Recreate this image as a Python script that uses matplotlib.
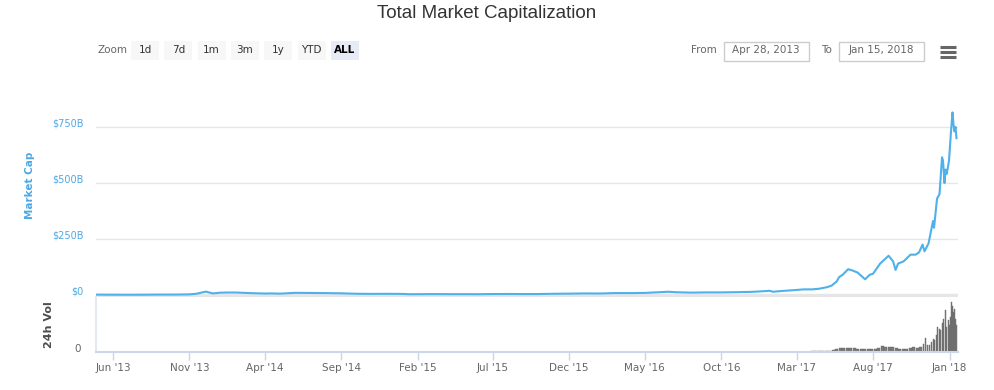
import matplotlib
matplotlib.use('Agg')
import matplotlib.pyplot as plt
import matplotlib.dates as mdates
import matplotlib.transforms as mtransforms
from matplotlib.patches import Rectangle
import numpy as np
import pandas as pd

# total market cap, billions USD
cap_dates = [
    '2013-04-28', '2013-06-01', '2013-07-01', '2013-08-01', '2013-09-01', '2013-10-01',
    '2013-11-01', '2013-11-15', '2013-12-01', '2013-12-04', '2013-12-18', '2014-01-01',
    '2014-01-15', '2014-02-01', '2014-03-01', '2014-04-01', '2014-04-15', '2014-05-01',
    '2014-06-01', '2014-07-01', '2014-08-01', '2014-09-01', '2014-10-01', '2014-11-01',
    '2014-12-01', '2015-01-01', '2015-01-15', '2015-02-01', '2015-03-01', '2015-04-01',
    '2015-05-01', '2015-06-01', '2015-07-01', '2015-08-01', '2015-09-01', '2015-10-01',
    '2015-11-01', '2015-12-01', '2016-01-01', '2016-02-01', '2016-03-01', '2016-04-01',
    '2016-05-01', '2016-06-01', '2016-06-17', '2016-07-01', '2016-08-01', '2016-09-01',
    '2016-10-01', '2016-11-01', '2016-12-01', '2017-01-01', '2017-01-05', '2017-01-12',
    '2017-02-01', '2017-03-01', '2017-03-15', '2017-04-01', '2017-04-15', '2017-05-01',
    '2017-05-10', '2017-05-20', '2017-05-25', '2017-06-01', '2017-06-12', '2017-06-20',
    '2017-07-01', '2017-07-16', '2017-07-25', '2017-08-01', '2017-08-15', '2017-09-01',
    '2017-09-10', '2017-09-15', '2017-09-20', '2017-10-01', '2017-10-15', '2017-10-25',
    '2017-11-01', '2017-11-08', '2017-11-12', '2017-11-20', '2017-11-29', '2017-12-01',
    '2017-12-07', '2017-12-12', '2017-12-17', '2017-12-19', '2017-12-22', '2017-12-24',
    '2017-12-26', '2017-12-28', '2017-12-31', '2018-01-04', '2018-01-07', '2018-01-09',
    '2018-01-11', '2018-01-13', '2018-01-15',
]
cap_values = [
    1.6, 1.3, 1.1, 1.3, 1.8, 1.8,
    2.7, 5.5, 13.5, 15.0, 7.0, 10.0,
    11.0, 11.0, 8.5, 6.5, 7.0, 6.0,
    9.5, 9.0, 8.5, 7.5, 5.5, 4.9,
    5.2, 4.8, 3.5, 3.6, 4.0, 3.7,
    3.7, 3.5, 4.2, 4.5, 4.1, 4.3,
    5.5, 6.0, 7.0, 6.6, 8.5, 8.5,
    9.2, 12.5, 14.5, 12.3, 10.5, 11.5,
    11.5, 12.5, 14.0, 17.7, 19.0, 14.5,
    18.0, 22.5, 25.0, 25.0, 28.0, 35.0,
    42.0, 60.0, 80.0, 90.0, 115.0, 110.0,
    100.0, 70.0, 90.0, 95.0, 140.0, 175.0,
    150.0, 112.0, 140.0, 150.0, 180.0, 180.0,
    190.0, 225.0, 195.0, 230.0, 330.0, 300.0,
    430.0, 450.0, 615.0, 600.0, 500.0, 560.0,
    540.0, 560.0, 600.0, 730.0, 815.0, 760.0,
    730.0, 750.0, 700.0,
]

# 24h volume, billions USD
vol_dates = [
    '2013-05-01', '2013-09-01', '2014-01-01', '2014-05-01', '2014-09-01', '2015-01-01',
    '2015-05-01', '2015-09-01', '2016-01-01', '2016-05-01', '2016-09-01', '2017-01-01',
    '2017-03-01', '2017-03-08', '2017-03-15', '2017-03-22', '2017-03-29', '2017-04-05',
    '2017-04-12', '2017-04-19', '2017-04-26', '2017-05-03', '2017-05-10', '2017-05-17',
    '2017-05-24', '2017-05-31', '2017-06-07', '2017-06-14', '2017-06-21', '2017-06-28',
    '2017-07-05', '2017-07-12', '2017-07-19', '2017-07-26', '2017-08-02', '2017-08-09',
    '2017-08-16', '2017-08-23', '2017-08-30', '2017-09-06', '2017-09-13', '2017-09-20',
    '2017-09-27', '2017-10-04', '2017-10-11', '2017-10-18', '2017-10-25', '2017-11-01',
    '2017-11-08', '2017-11-12', '2017-11-16', '2017-11-20', '2017-11-24', '2017-11-28',
    '2017-12-01', '2017-12-04', '2017-12-07', '2017-12-10', '2017-12-13', '2017-12-16',
    '2017-12-19', '2017-12-22', '2017-12-25', '2017-12-28', '2017-12-31', '2018-01-02',
    '2018-01-04', '2018-01-06', '2018-01-08', '2018-01-10', '2018-01-12', '2018-01-14',
]
vol_values = [
    0.05, 0.05, 0.1, 0.05, 0.05, 0.05,
    0.05, 0.05, 0.1, 0.1, 0.1, 0.2,
    0.4, 0.5, 0.6, 0.6, 0.7, 0.8,
    0.9, 1.0, 1.2, 1.8, 2.5, 3.5,
    4.5, 4.8, 4.5, 5.0, 4.8, 4.2,
    4.0, 3.8, 3.6, 3.8, 4.2, 5.0,
    7.5, 6.5, 5.5, 6.0, 4.5, 3.8,
    3.5, 4.0, 5.0, 5.5, 5.0, 6.5,
    10.0, 17.0, 8.0, 9.0, 12.0, 16.0,
    14.0, 20.0, 30.0, 28.0, 26.0, 35.0,
    40.0, 50.0, 30.0, 38.0, 32.0, 42.0,
    60.0, 55.0, 48.0, 52.0, 40.0, 33.0,
]

cap_ticks = [0, 250, 500, 750]
cap_tick_labels = ['$0', '$250B', '$500B', '$750B']
x_ticks = ['2013-06-01', '2013-11-01', '2014-04-01', '2014-09-01', '2015-02-01', '2015-07-01',
           '2015-12-01', '2016-05-01', '2016-10-01', '2017-03-01', '2017-08-01', '2018-01-01']
x_tick_labels = ["Jun '13", "Nov '13", "Apr '14", "Sep '14", "Feb '15", "Jul '15",
                 "Dec '15", "May '16", "Oct '16", "Mar '17", "Aug '17", "Jan '18"]
zoom_buttons = ['1d', '7d', '1m', '3m', '1y', 'YTD', 'ALL']
range_from = 'Apr 28, 2013'
range_to = 'Jan 15, 2018'

W, H = 994, 390
LINE = '#4fb1ea'
LABEL_BLUE = '#4fa8e3'
GRID = '#e6e6e6'
AXIS = '#ccd6eb'
TEXT = '#666666'

plt.rcParams['font.family'] = ['DejaVu Sans']


def fx(px):
    return px / W


def fy(py):
    return 1 - py / H


fig = plt.figure(figsize=(W / 100, H / 100), dpi=100)

x0, x1 = 96, 958
main_top, main_bot = 105, 297
vol_top, vol_bot = 297, 352

ax = fig.add_axes([fx(x0), fy(main_bot), fx(x1 - x0), (main_bot - main_top) / H])
axv = fig.add_axes([fx(x0), fy(vol_bot), fx(x1 - x0), (vol_bot - vol_top) / H], sharex=ax)

cd = pd.to_datetime(cap_dates)
vd = pd.to_datetime(vol_dates)
xlim = (pd.Timestamp('2013-04-28'), pd.Timestamp('2018-01-18'))

# labels in highcharts sit a few px above their grid line
lift = mtransforms.ScaledTranslation(0, 4 / 100, fig.dpi_scale_trans)

# main panel
ax.plot(cd, cap_values, color=LINE, lw=1.5, solid_joinstyle='round', zorder=3)
ax.set_xlim(xlim)
ax.set_ylim(-9, 848)
ax.set_yticks(cap_ticks)
ax.set_yticklabels(cap_tick_labels, color=LABEL_BLUE, fontsize=7)
ax.tick_params(axis='y', length=0, pad=9)
ax.tick_params(axis='x', length=0, labelbottom=False)
for lbl in ax.get_yticklabels():
    lbl.set_transform(lbl.get_transform() + lift)
ax.grid(axis='y', color=GRID, lw=1)
ax.axhline(0, color=GRID, lw=2.5, zorder=1)
for s in ax.spines.values():
    s.set_visible(False)
ax.set_ylabel('Market Cap', color=LABEL_BLUE, fontsize=7.5, fontweight='bold')
ax.yaxis.set_label_coords((35 - x0) / (x1 - x0), 0.58)

# volume panel
widths = np.diff(mdates.date2num(vd), append=mdates.date2num(vd[-1]) + 2) * 0.9
axv.bar(vd, vol_values, width=widths, color='#7a7a7a', edgecolor='#666666', lw=0.3,
        align='edge', zorder=2)
axv.set_ylim(0, 66)
axv.set_yticks([0])
axv.set_yticklabels(['0'], color=TEXT, fontsize=7.5)
axv.tick_params(axis='y', length=0, pad=11)
for lbl in axv.get_yticklabels():
    lbl.set_transform(lbl.get_transform() + lift)
axv.set_xticks(pd.to_datetime(x_ticks))
axv.set_xticklabels(x_tick_labels, color=TEXT, fontsize=7.5)
axv.tick_params(axis='x', length=6, color=AXIS, width=1, pad=2)
for k in ['top', 'right']:
    axv.spines[k].set_visible(False)
axv.spines['bottom'].set_color(AXIS)
axv.spines['bottom'].set_linewidth(1.5)
axv.spines['left'].set_color('#e3e8f2')
axv.spines['left'].set_linewidth(1.5)
axv.set_ylabel('24h Vol', color='#4d4d4d', fontsize=8, fontweight='bold')
axv.yaxis.set_label_coords((54 - x0) / (x1 - x0), 0.5)
axv.set_xlim(xlim)

# title
fig.text(fx(487), fy(13), 'Total Market Capitalization', ha='center', va='center',
         fontsize=13.5, color='#333333', family='Liberation Sans')

# range selector buttons
fig.text(fx(97), fy(50), 'Zoom', ha='left', va='center', fontsize=7.5, color=TEXT)
bx = 131
for lab in zoom_buttons:
    selected = lab == 'ALL'
    fig.add_artist(Rectangle((fx(bx), fy(60)), fx(28), 19 / H, transform=fig.transFigure,
                             facecolor='#e6ebf5' if selected else '#f7f7f7',
                             edgecolor='none'))
    fig.text(fx(bx + 14), fy(50), lab, ha='center', va='center', fontsize=7.5,
             color='#000000' if selected else '#333333',
             fontweight='bold' if selected else 'normal')
    bx += 33.3

# date inputs
fig.text(fx(717), fy(50), 'From', ha='right', va='center', fontsize=7.5, color=TEXT)
fig.add_artist(Rectangle((fx(723.5), fy(61)), fx(85), 19 / H, transform=fig.transFigure,
                         facecolor='white', edgecolor='#cccccc', lw=1))
fig.text(fx(766), fy(50), range_from, ha='center', va='center', fontsize=7.5, color=TEXT)
fig.text(fx(832), fy(50), 'To', ha='right', va='center', fontsize=7.5, color=TEXT)
fig.add_artist(Rectangle((fx(838.5), fy(61)), fx(85), 19 / H, transform=fig.transFigure,
                         facecolor='white', edgecolor='#cccccc', lw=1))
fig.text(fx(881), fy(50), range_to, ha='center', va='center', fontsize=7.5, color=TEXT)

# menu icon
for yy in (46.5, 51.5, 56.5):
    fig.add_artist(plt.Line2D([fx(940), fx(956)], [fy(yy), fy(yy)], transform=fig.transFigure,
                              color='#666666', lw=2.2, solid_capstyle='butt'))

fig.savefig('out.png', dpi=100)
